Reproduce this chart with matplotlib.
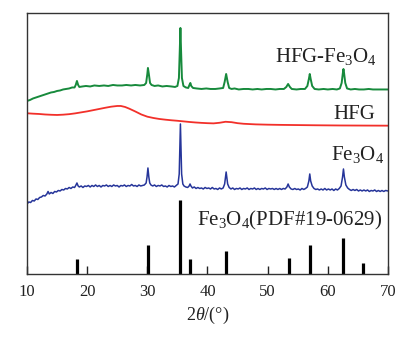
import numpy as np
import matplotlib
matplotlib.use("Agg")
import matplotlib.pyplot as plt

plt.rcParams['font.family'] = ['Liberation Serif', 'DejaVu Serif']
plt.rcParams['mathtext.fontset'] = 'custom'
plt.rcParams['mathtext.rm'] = 'Liberation Serif'
plt.rcParams['mathtext.it'] = 'Liberation Serif:italic'

# HFG-Fe3O4 (green), stacked intensity (a.u.)
green_tt = [10.0, 10.5, 11.0, 11.5, 12.0, 12.5, 13.0, 13.5, 14.0, 14.5, 15.0, 15.5, 16.0, 16.5,
            17.0, 17.5, 17.9, 18.1, 18.3, 18.5, 18.7, 19.2, 19.8, 20.5, 21.2, 22.0, 22.8, 23.5,
            24.3, 25.0, 25.8, 26.5, 27.3, 28.0, 28.8, 29.5, 29.8, 30.0, 30.1, 30.25, 30.45, 30.7,
            31.2, 31.8, 32.5, 33.2, 34.0, 34.6, 35.0, 35.25, 35.4, 35.5, 35.6, 35.75, 36.0, 36.4,
            36.8, 37.0, 37.15, 37.3, 37.6, 38.2, 39.0, 39.8, 40.5, 41.3, 42.0, 42.6, 42.85, 43.1,
            43.35, 43.6, 44.0, 44.5, 45.2, 46.0, 46.8, 47.5, 48.3, 49.0, 49.8, 50.5, 51.3, 52.0,
            52.7, 53.1, 53.4, 53.7, 54.0, 54.8, 55.5, 56.2, 56.6, 56.85, 57.0, 57.15, 57.4, 57.8,
            58.5, 59.3, 60.0, 60.8, 61.5, 62.0, 62.3, 62.5, 62.6, 62.7, 62.9, 63.2, 63.8, 64.5,
            65.2, 66.0, 66.8, 67.5, 68.3, 69.0, 70.0]
green_i = [173, 174, 175.5, 176.5, 177.5, 178.5, 179.5, 180.5, 181.5, 182, 183, 183.5, 184.5, 185,
           185.5, 186.5, 186.5, 189, 193, 189, 187, 187.5, 188, 187.5, 188.5, 188, 188.5, 188,
           189, 188.5, 188.5, 189, 188.5, 189, 188.5, 189, 191, 200, 206, 200, 191, 189,
           188, 188.5, 187.5, 188, 187.5, 187, 188, 196, 225, 246, 225, 196, 188, 186.5,
           186, 189, 191, 188, 186, 185.5, 185, 185.5, 185, 185, 185.5, 186, 192, 200,
           192, 186, 185, 185.5, 184.5, 185, 185, 184.5, 185, 184.5, 185, 185, 184.5, 185,
           185, 187, 190, 187, 185, 184.5, 185, 185, 188, 195, 200, 195, 188, 185,
           184.5, 185, 184.5, 185, 184.5, 185.5, 191, 201, 205, 201, 191, 185.5, 184.5, 185,
           184.5, 184.5, 185, 184.5, 184.5, 184.5, 184.5]

# HFG (red)
red_tt = [10, 11, 12, 13, 14, 15, 16, 17, 18, 19, 20, 21, 22, 23, 24, 25, 25.6, 26.3, 27, 28,
          29, 30, 31, 32, 33, 34, 35, 36, 37, 38, 39, 40, 41, 42, 43, 44, 45, 46, 47, 48,
          50, 52, 55, 58, 62, 66, 70]
red_i = [160.7, 160.3, 160, 159.5, 159.2, 159, 159.3, 159.8, 160.6, 161.6, 162.6, 163.8, 165,
         166.2, 167.3, 168, 168, 167, 165.3, 162.5, 159.5, 157.3, 156, 155, 154.3, 153.7, 153.2,
         152.6, 152, 151.5, 151.1, 150.8, 150.6, 151.2, 152.2, 151.8, 150.8, 150.2, 149.9, 149.6,
         149.3, 149.1, 148.9, 148.7, 148.5, 148.4, 148.3]

# Fe3O4 (blue)
blue_tt = [10.0, 10.3, 10.6, 10.9, 11.2, 11.5, 11.8, 12.1, 12.4, 12.7, 13.0, 13.3, 13.5, 13.7,
           14.0, 14.3, 14.6, 14.9, 15.2, 15.5, 15.8, 16.1, 16.4, 16.7, 17.0, 17.3, 17.6, 17.9,
           18.1, 18.3, 18.5, 18.7, 19.0, 19.3, 19.6, 19.9, 20.2, 20.5, 20.8, 21.1, 21.4, 21.7,
           22.0, 22.3, 22.6, 22.9, 23.2, 23.5, 23.8, 24.1, 24.4, 24.7, 25.0, 25.3, 25.6, 25.9,
           26.2, 26.5, 26.8, 27.1, 27.4, 27.7, 28.0, 28.3, 28.6, 28.9, 29.2, 29.5, 29.8, 29.95,
           30.1, 30.25, 30.4, 30.6, 30.9, 31.2, 31.5, 31.8, 32.1, 32.4, 32.7, 33.0, 33.3, 33.6,
           33.9, 34.2, 34.5, 34.8, 35.1, 35.3, 35.42, 35.5, 35.58, 35.7, 35.9, 36.1, 36.4, 36.7,
           36.95, 37.1, 37.25, 37.5, 37.8, 38.1, 38.4, 38.7, 39.0, 39.3, 39.6, 39.9, 40.2, 40.5,
           40.8, 41.1, 41.4, 41.7, 42.0, 42.3, 42.6, 42.85, 43.0, 43.1, 43.2, 43.35, 43.6, 43.9,
           44.2, 44.5, 44.8, 45.1, 45.4, 45.7, 46.0, 46.3, 46.6, 46.9, 47.2, 47.5, 47.8, 48.1,
           48.4, 48.7, 49.0, 49.3, 49.6, 49.9, 50.2, 50.5, 50.8, 51.1, 51.4, 51.7, 52.0, 52.3,
           52.6, 52.9, 53.2, 53.4, 53.6, 53.9, 54.2, 54.5, 54.8, 55.1, 55.4, 55.7, 56.0, 56.3,
           56.6, 56.85, 57.0, 57.15, 57.4, 57.7, 58.0, 58.3, 58.6, 58.9, 59.2, 59.5, 59.8, 60.1,
           60.4, 60.7, 61.0, 61.3, 61.6, 61.9, 62.2, 62.45, 62.6, 62.75, 63.0, 63.3, 63.6, 63.9,
           64.2, 64.5, 64.8, 65.1, 65.4, 65.7, 66.0, 66.3, 66.6, 66.9, 67.2, 67.5, 67.8, 68.1,
           68.4, 68.7, 69.0, 69.3, 69.6, 70.0]
blue_i = [70, 72, 71.5, 73.5, 73, 75, 74.5, 76.5, 77, 78.5, 78, 80, 82.5, 80,
          81.5, 80.5, 82.5, 82, 83.5, 83, 84.5, 84, 85.5, 85, 86.5, 85.5, 87, 86.5,
          88.5, 91, 88, 87, 88, 86.5, 88, 87.5, 88.5, 87, 88.5, 87.5, 89, 87.5,
          88.5, 87, 88.5, 88, 89, 87.5, 88.5, 87.5, 89, 88, 88.5, 87, 88.5, 88,
          89, 87.5, 88.5, 88, 89.5, 88, 88.5, 87.5, 89, 88, 88.5, 89, 91, 97,
          106, 97, 91, 89, 88, 89, 87.5, 88.5, 88, 89, 87.5, 88, 87, 88.5,
          87.5, 88, 87, 88.5, 90, 100, 130, 150, 130, 100, 90, 88, 87, 86.5,
          88, 90, 88, 86, 87, 85.5, 86.5, 85.5, 86, 85, 86.5, 85.5, 86, 85,
          86.5, 85, 85.5, 84.5, 86, 85, 86, 90, 97, 102, 97, 90, 86.5, 85,
          86, 84.5, 85.5, 85, 86, 84.5, 85.5, 85, 86, 84.5, 85.5, 85, 86, 84.5,
          85.5, 84.5, 85.5, 85, 86, 84.5, 85.5, 85, 85.5, 84.5, 85.5, 84.5, 85.5, 84.5,
          85.5, 85, 87, 90, 87, 85, 84.5, 85.5, 84.5, 85, 84, 85.5, 84.5, 85.5,
          87, 93, 100, 93, 88, 85.5, 84.5, 85, 84, 85, 84, 85.5, 84, 85,
          84, 85, 83.5, 85, 84, 85.5, 88, 97, 105, 97, 89, 86, 84.5, 83.5,
          84.5, 83.5, 84.5, 83, 84, 83, 84, 83, 84, 82.5, 83.5, 83, 84, 82.5,
          83.5, 82.5, 83.5, 82.5, 83.5, 83]

# Fe3O4 standard card PDF#19-0629
ref_tt = [18.3, 30.1, 35.5, 37.1, 43.1, 53.5, 57.0, 62.6, 65.8]
ref_i = [15, 29, 74, 15, 23, 16, 29, 36, 11]

fig = plt.figure(figsize=(4.11, 3.41), dpi=100)
ax = fig.add_axes([0.0657, 0.1965, 0.8783, 0.7655])

ax.plot(green_tt, green_i, color='#178a3c', lw=1.4)
ax.plot(red_tt, red_i, color='#f2302a', lw=1.3)
ax.plot(blue_tt, blue_i, color='#26359a', lw=1.1)
ax.vlines(ref_tt, 0, ref_i, color='black', lw=2.3)

ax.text(51.2, 217, 'HFG-Fe$_3$O$_4$', fontsize=15, va='center', ha='left', color='#222')
ax.text(61.0, 159, 'HFG', fontsize=15, va='center', ha='left', color='#222')
ax.text(60.5, 119, 'Fe$_3$O$_4$', fontsize=15, va='center', ha='left', color='#222')
ax.text(38.2, 54, 'Fe$_3$O$_4$(PDF#19-0629)', fontsize=15, va='center', ha='left', color='#222')

ax.set_xlim(10, 70)
ax.set_ylim(0, 261)
ax.set_xticks([10, 20, 30, 40, 50, 60, 70])
ax.set_yticks([])
ax.tick_params(axis='x', direction='in', length=6, width=1, labelsize=12, pad=7, colors='#222')
ax.set_xlabel(r'$2\theta$/(°)', fontsize=13, labelpad=4, color='#222')
for s in ax.spines.values():
    s.set_color('#333')
    s.set_linewidth(1.0)

fig.savefig('out.png', dpi=100)
